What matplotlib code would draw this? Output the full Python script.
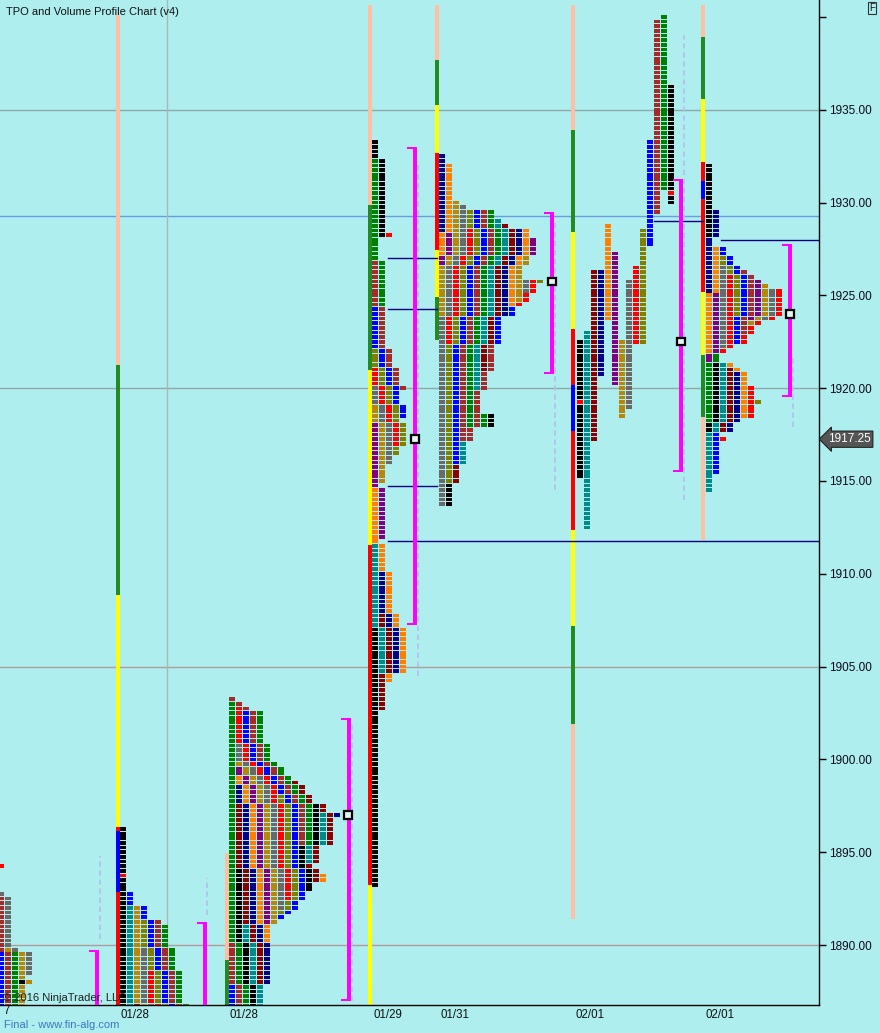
import numpy as np
import matplotlib
matplotlib.use("Agg")
import matplotlib.pyplot as plt
from matplotlib.patches import Rectangle

plt.rcParams['font.family'] = ['Liberation Sans', 'DejaVu Sans']

BG = '#afeeee'
TICK = 0.25
COL_W = 7
CELL_H = 0.2

# TPO letter colours
COLORS = {'k': '#000000', 'T': '#008b8b', 'D': '#8b0000', 'N': '#00008b', 'O': '#ff8000',
          'P': '#800080', 'Y': '#b8860b', 'g': '#696969', 'R': '#ff0000', 'L': '#808000',
          'B': '#0000ff', 'W': '#a52a2a', 'G': '#008000'}
BAR_COLORS = {'s': '#ffbfa0', 'G': '#228b22', 'y': '#ffff00', 'R': '#ff0000', 'B': '#0000ff'}

# ---- TPO periods per session (chronological), colour code + high/low ----
s0_x = -2
s0_colors = "BWGkYg"
s0_hi = [1889.5, 1892.5, 1889.5, 1888.0, 1889.75, 1892.75]
s0_lo = [1880.0, 1880.0, 1880.0, 1888.0, 1880.0, 1888.5]

s1_x = 120
s1_colors = "kTDNOPYgRLBWG"
s1_hi = [1896.25, 1892.0, 1886.75, 1886.5, 1886.5, 1886.5, 1892.0, 1889.75, 1888.5, 1891.25, 1892.75, 1891.25, 1891.0]
s1_lo = [1880.0] * 13

s2_x = 229
s2_colors = "BWGkTDNOPYgRLBWGkTDNO"
s2_hi = [1887.75, 1890.0, 1903.0, 1894.0, 1891.0, 1897.5, 1898.5, 1899.0, 1899.5, 1899.75, 1900.75,
         1902.75, 1898.0, 1902.5, 1903.25, 1902.5, 1897.5, 1897.0, 1898.75, 1897.0, 1893.75]
s2_lo = [1880.0, 1880.0, 1880.0, 1880.0, 1880.0, 1888.0, 1888.0, 1890.25, 1891.25, 1891.25, 1892.0,
         1892.5, 1891.75, 1891.5, 1895.5, 1895.5, 1893.0, 1894.5, 1893.5, 1897.0, 1893.5]

s3_x = 372
s3_colors = "kTDNOPYgRLBWGk"
s3_hi = [1907.0, 1911.5, 1907.75, 1910.0, 1914.5, 1918.0, 1919.0, 1920.0, 1921.0, 1922.0, 1924.25, 1926.75, 1932.25, 1933.25]
s3_lo = [1893.25, 1904.75, 1902.75, 1904.75, 1904.25, 1912.0, 1915.0, 1916.0, 1917.0, 1916.5, 1918.5, 1920.0, 1924.5, 1928.25]

s4_x = 439
s4_colors = "NOPYgRLBWGkTDNOPYgRLBWGkTD"
s4_hi = [1932.5, 1932.0, 1928.25, 1930.0, 1929.75, 1928.5, 1929.5, 1929.5, 1929.5, 1929.5, 1914.75, 1929.0, 1928.75,
         1928.5, 1928.5, 1928.0, 1927.0, 1925.75, 1925.75, 1925.75, 1924.25, 1922.25, 1918.5, 1918.5, 1917.0, 1915.75]
s4_lo = [1928.5, 1927.25, 1926.75, 1924.0, 1913.75, 1922.5, 1915.0, 1916.0, 1917.25, 1918.0, 1913.75, 1920.0, 1921.0,
         1924.0, 1924.5, 1927.25, 1924.75, 1925.25, 1924.5, 1925.75, 1922.5, 1917.25, 1918.0, 1918.0, 1916.0, 1915.0]

# split profile: one column per period
s5_x = 577
s5_colors = "kTDNOPYgRLBWGk"
s5_hi = [1922.5, 1923.0, 1926.25, 1926.25, 1928.75, 1927.25, 1922.5, 1925.75, 1926.5, 1928.5, 1933.25, 1939.75, 1940.0, 1936.25]
s5_lo = [1915.25, 1912.5, 1917.25, 1920.75, 1923.75, 1920.25, 1918.5, 1919.0, 1922.5, 1922.5, 1927.75, 1929.5, 1930.75, 1930.0]

s6_x = 706
s6_colors = "kNOPgRLBWGkTDNOPYgRRLBR"
s6_hi = [1932.0, 1929.5, 1927.5, 1925.0, 1926.5, 1926.0, 1927.0, 1927.5, 1926.25, 1921.75, 1921.25, 1921.25,
         1921.0, 1920.75, 1921.25, 1925.75, 1925.5, 1925.25, 1925.25, 1920.0, 1919.25, 1917.5, 1917.25]
s6_lo = [1928.25, 1925.25, 1922.0, 1921.5, 1922.25, 1922.0, 1924.0, 1922.5, 1923.0, 1918.25, 1917.75, 1914.5,
         1917.75, 1917.75, 1918.5, 1923.75, 1923.5, 1923.75, 1922.5, 1918.5, 1919.25, 1915.5, 1917.25]

# red opening marks: (session x, column, price)
open_marks = [(s0_x, 0, 1894.25), (s1_x, 0, 1893.75), (s3_x, 2, 1928.25), (s5_x, 0, 1919.25), (s5_x, 13, 1930.5)]

# vertical range bars left of each session: x, segments (colour, top, bottom)
bar_x = [116, 225, 368, 435, 571, 701]
bar_segments = [
    [('s', 1940.1, 1921.25), ('G', 1921.25, 1908.875), ('y', 1908.875, 1896.375), ('R', 1896.375, 1896.125),
     ('B', 1896.125, 1892.875), ('R', 1892.875, 1880.0)],
    [('s', 1894.96, 1889.19), ('G', 1889.19, 1880.0)],
    [('s', 1940.66, 1929.88), ('G', 1929.88, 1921.0), ('y', 1921.0, 1911.55), ('R', 1911.55, 1893.23),
     ('y', 1893.23, 1880.0)],
    [('s', 1940.66, 1937.69), ('G', 1937.69, 1935.27), ('y', 1935.27, 1932.68), ('R', 1932.68, 1927.46),
     ('y', 1927.46, 1924.93), ('G', 1924.93, 1922.6)],
    [('s', 1940.66, 1933.92), ('G', 1933.92, 1928.43), ('y', 1928.43, 1923.2), ('R', 1923.2, 1920.18),
     ('B', 1920.18, 1917.7), ('R', 1917.7, 1912.37), ('y', 1912.37, 1907.2), ('G', 1907.2, 1901.9),
     ('s', 1901.9, 1891.4)],
    [('s', 1940.66, 1938.93), ('G', 1938.93, 1935.59), ('y', 1935.59, 1932.2), ('R', 1932.2, 1931.17),
     ('B', 1931.17, 1930.2), ('R', 1930.2, 1925.19), ('y', 1925.19, 1921.8), ('G', 1921.8, 1918.46),
     ('s', 1918.46, 1911.83)],
]

# value area brackets (x, top, bottom) and POC squares (x, price)
va_x = [95, 203, 347, 413, 550, 679, 788]
va_top = [1889.75, 1891.25, 1902.25, 1933.0, 1929.5, 1931.25, 1927.75]
va_bot = [1880.0, 1880.0, 1887.0, 1907.25, 1920.75, 1915.5, 1919.5]
poc_x = [348, 415, 552, 681, 790]
poc_price = [1897.0, 1917.25, 1925.75, 1922.5, 1924.0]

# naked POC lines (price, x start, x end)
npoc_price = [1927.0, 1924.25, 1914.75, 1911.75, 1929.0, 1928.0]
npoc_x0 = [388, 388, 388, 388, 654, 721]
npoc_x1 = [437, 437, 437, 819, 703, 819]

# faint volume ghost lines (x, top, bottom)
ghost_x = [100, 207, 352, 418, 555, 684, 793]
ghost_top = [1894.8, 1893.6, 1902.0, 1932.0, 1929.0, 1939.0, 1921.8]
ghost_bot = [1890.3, 1891.6, 1887.0, 1904.5, 1914.5, 1914.0, 1917.9]

grid_prices = [1935, 1920, 1905, 1890]
grid_colors = ['#8fa9a9', '#8fa9a9', '#b09c9c', '#b09c9c']

date_labels = ['7', '01/28', '01/28', '01/29', '01/31', '02/01', '02/01']
date_x = [3, 135, 244, 388, 455, 590, 720]

last_price = 1917.25

fig = plt.figure(figsize=(8.8, 10.33), dpi=100, facecolor=BG)
ax = fig.add_axes([0, 28 / 1033, 819 / 880, 1005 / 1033], facecolor=BG)
ax.set_xlim(0, 819)
ax.set_ylim(1886.77, 1940.91)

for p, c in zip(grid_prices, grid_colors):
    ax.axhline(p, color=c, lw=1, zorder=1)
ax.axhline(1929.3, color='#6a9be0', lw=1, zorder=1)
ax.axvline(167, color='#a8b8b8', lw=1, zorder=1)


def draw_profile(x0, colors, highs, lows, split=False):
    xs, ys, cs = [], [], []
    used = {}
    for i, (c, hi, lo) in enumerate(zip(colors, highs, lows)):
        for n in range(round(lo / TICK), round(hi / TICK) + 1):
            if split:
                col = i
            else:
                col = used.get(n, 0)
                used[n] = col + 1
            xs.append(x0 + COL_W * col)
            ys.append(n * TICK - CELL_H / 2)
            cs.append(COLORS[c])
    ax.bar(xs, CELL_H, width=6, bottom=ys, color=cs, align='edge', linewidth=0, zorder=3)


draw_profile(s0_x, s0_colors, s0_hi, s0_lo)
draw_profile(s1_x, s1_colors, s1_hi, s1_lo)
draw_profile(s2_x, s2_colors, s2_hi, s2_lo)
draw_profile(s3_x, s3_colors, s3_hi, s3_lo)
draw_profile(s4_x, s4_colors, s4_hi, s4_lo)
draw_profile(s5_x, s5_colors, s5_hi, s5_lo, split=True)
draw_profile(s6_x, s6_colors, s6_hi, s6_lo)

for x0, col, p in open_marks:
    ax.bar(x0 + COL_W * col, CELL_H, width=6, bottom=p - CELL_H / 2, color='#ff0000',
           align='edge', linewidth=0, zorder=4)

for x, segs in zip(bar_x, bar_segments):
    for c, top, bot in segs:
        ax.bar(x, top - bot, width=4, bottom=bot, color=BAR_COLORS[c], align='edge', linewidth=0, zorder=2)

for x, top, bot in zip(ghost_x, ghost_top, ghost_bot):
    ax.plot([x, x], [bot, top], color='#b4c0f0', lw=1.3, ls=(0, (3, 2)), zorder=2)

for p, x0, x1 in zip(npoc_price, npoc_x0, npoc_x1):
    ax.plot([x0, x1], [p, p], color='#000080', lw=1, zorder=2)

tick_h = 2 / 18.556
for x, top, bot in zip(va_x, va_top, va_bot):
    ax.add_patch(Rectangle((x, bot), 4, top - bot, fc='#ff00ff', ec='none', zorder=5))
    ax.add_patch(Rectangle((x - 6, top - tick_h), 10, tick_h, fc='#ff00ff', ec='none', zorder=5))
    ax.add_patch(Rectangle((x - 6, bot), 10, tick_h, fc='#ff00ff', ec='none', zorder=5))

for x, p in zip(poc_x, poc_price):
    ax.add_patch(Rectangle((x - 4, p - 0.2), 8, 0.4, fc='#e8f4f4', ec='black', lw=1.6, zorder=6))

# axes styling
for s in ['left', 'top']:
    ax.spines[s].set_visible(False)
for s in ['right', 'bottom']:
    ax.spines[s].set_color('black')
    ax.spines[s].set_linewidth(1)
ax.yaxis.tick_right()
yt = [1890, 1895, 1900, 1905, 1910, 1915, 1920, 1925, 1930, 1935, 1940]
ax.set_yticks(yt)
ax.set_yticklabels([f'{v:.2f}' if v < 1940 else '' for v in yt])
ax.tick_params(axis='y', length=5, width=1, pad=2, labelsize=8.5, labelcolor='#100818')
ax.set_xticks([])

ax.text(828, last_price, f'{last_price:.2f}', fontsize=8.5, color='white', va='center', ha='left',
        clip_on=False, zorder=10,
        bbox=dict(boxstyle='larrow,pad=0.18', fc='#555555', ec='#222222', lw=0.8))

for lab, x in zip(date_labels, date_x):
    y = 1011 if lab == '7' else 1015
    fig.text(x / 880, 1 - y / 1033, lab, fontsize=8.3, ha='left' if lab == '7' else 'center',
             va='center', color='#111111')

fig.text(6 / 880, 1 - 12 / 1033, 'TPO and Volume Profile Chart (v4)', fontsize=8.0, va='center',
         ha='left', color='#111111')
fig.text(3 / 880, 1 - 998 / 1033, '\u00a9 2016 NinjaTrader, LLC', fontsize=8.0, va='center',
         ha='left', color='#202020', zorder=20)
fig.text(4 / 880, 1 - 1025 / 1033, 'Final - www.fin-alg.com', fontsize=8.0, va='center',
         ha='left', color='#3a78c0')
fig.text(872 / 880, 1 - 8 / 1033, 'F', fontsize=7, va='center', ha='center', color='#111111',
         bbox=dict(boxstyle='square,pad=0.15', fc=BG, ec='#333333', lw=0.8))

fig.savefig('out.png', dpi=100, facecolor=BG)
